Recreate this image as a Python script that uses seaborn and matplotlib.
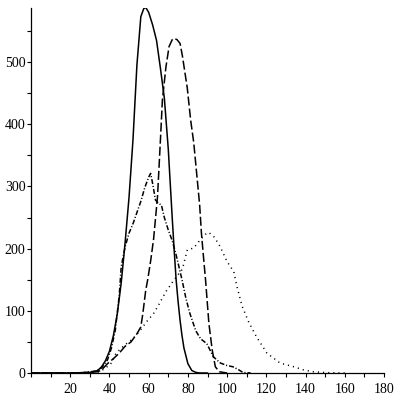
# Four density-like curves in black line styles, Maple-style axes.

import pandas as pd
import matplotlib
matplotlib.use('Agg')
import matplotlib.pyplot as plt
import seaborn as sns
from matplotlib.ticker import MultipleLocator

# solid curve
solid_x = [0, 20, 30, 34, 36, 38, 40, 42, 44, 46, 48, 50, 52, 54, 56, 57.5, 58.5,
           60, 62, 64, 66, 68, 70, 72, 73, 74, 75, 76, 77, 78, 80, 82, 84, 86, 90]
solid_y = [0, 0, 1, 4, 10, 20, 35, 60, 95, 145, 210, 283, 375, 495, 573, 586, 588,
           580, 560, 535, 490, 442, 360, 250, 198, 150, 115, 85, 60, 40, 15, 4, 1, 0, 0]

# long dashed curve
long_x = [0, 25, 34, 36, 39, 42, 45, 48, 51, 54, 56, 57, 58.5, 59.5, 61, 62.5, 64.5,
          66, 67, 68.8, 70.4, 72, 73, 74.5, 76, 77.2, 79.7, 81.4, 83, 84.8, 86,
          86.9, 88, 89, 90.7, 92.4, 94, 96, 100]
long_y = [0, 0, 2, 5, 15, 23, 32, 43, 50, 63, 74, 95, 133, 150, 180, 215, 283,
          375, 439, 492, 525, 536, 538, 536, 530, 510, 458, 407, 370, 310, 270,
          225, 185, 150, 80, 37, 10, 2, 0]

# dash-dot curve
dashdot_x = [0, 25, 33, 36, 39, 41, 43, 45, 46, 48, 50, 52, 54, 56, 58, 60, 61, 62,
             63.5, 65, 66.5, 68, 70, 72, 74, 77, 79, 81, 84, 86.5, 89.7, 93, 96.6,
             100, 103, 106, 108, 112]
dashdot_y = [0, 0, 3, 8, 21, 40, 69, 125, 171, 203, 225, 240, 258, 276, 298, 315, 321,
             305, 278, 273, 270, 250, 230, 213, 190, 150, 120, 96, 68, 55, 47, 26, 16,
             12, 10, 5, 1, 0]

# dotted curve
dotted_x = [0, 25, 35, 38, 41, 43.4, 46, 49, 52, 56, 60.3, 62, 65, 68.8, 73, 77.2,
            79.7, 83, 86.5, 89.9, 91.5, 93.3, 95.8, 97.5, 100, 103.4, 105, 107.7,
            111, 115, 120.3, 127, 134, 139, 144, 151, 160]
dotted_y = [0, 0, 2, 8, 16, 32, 40, 48, 55, 70, 88, 93, 109, 131, 150, 167,
            198, 201, 215, 226, 224, 219, 207, 196, 179, 163, 139, 107,
            82, 58, 32, 16, 10, 5, 2, 0.5, 0]

sns.set_style('ticks')
plt.rcParams['font.family'] = ['Liberation Serif', 'DejaVu Serif']
plt.rcParams['lines.scale_dashes'] = False

fig = plt.figure(figsize=(4, 4), dpi=100)
ax = fig.add_axes([0.0775, 0.0675, 0.8825, 0.9125])

lw = 1.1
sns.lineplot(x=solid_x, y=solid_y, ax=ax, color='black', lw=lw, linestyle='-',
             sort=False)
sns.lineplot(x=long_x, y=long_y, ax=ax, color='black', lw=lw,
             linestyle=(0, (6.5, 2.2)), sort=False)
sns.lineplot(x=dashdot_x, y=dashdot_y, ax=ax, color='black', lw=lw,
             linestyle=(0, (3.6, 1.4, 0.8, 1.4)), sort=False)
sns.lineplot(x=dotted_x, y=dotted_y, ax=ax, color='black', lw=lw,
             linestyle=(0, (0.8, 2.9)), sort=False)

ax.set_xlim(0, 180)
ax.set_ylim(0, 587)
ax.set_xticks(range(20, 181, 20))
ax.set_yticks(range(0, 501, 100))
ax.xaxis.set_minor_locator(MultipleLocator(10))
ax.yaxis.set_minor_locator(MultipleLocator(50))
ax.tick_params(which='both', direction='out', length=3, width=0.8,
               labelsize=10, colors='black')
ax.tick_params(axis='x', pad=4)
ax.tick_params(axis='y', pad=1)
for s in ['top', 'right']:
    ax.spines[s].set_visible(False)
for s in ['left', 'bottom']:
    ax.spines[s].set_linewidth(0.9)
    ax.spines[s].set_color('black')
ax.set_xlabel('')
ax.set_ylabel('')

fig.savefig('out.png', dpi=100)
